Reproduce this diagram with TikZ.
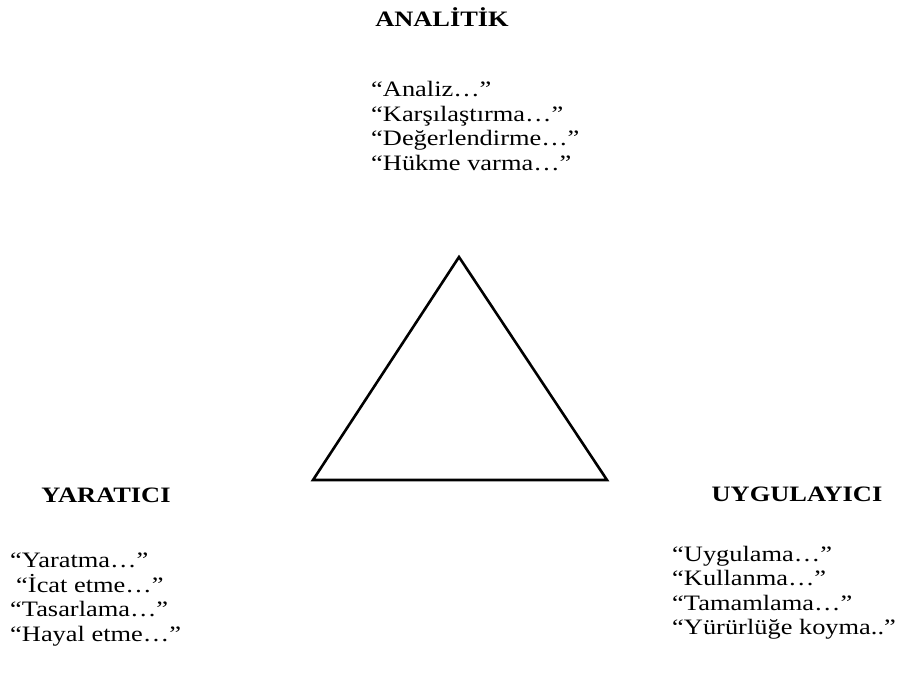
\documentclass[tikz,border=0pt]{standalone}
\usepackage{fontspec}
\setmainfont{Liberation Serif}
\begin{document}
\begin{tikzpicture}[x=1pt,y=1pt,
  line/.style={font=\fontsize{22}{22}\selectfont, anchor=base west, inner sep=0pt, xscale=1.2},
  head/.style={font=\fontsize{22}{22}\selectfont\bfseries, anchor=base, inner sep=0pt, xscale=1.2},
  tri/.style={draw=black, line width=2.6pt, line join=miter}]
\path[use as bounding box] (0,0) rectangle (910,675);

% heading and keywords above the triangle
\node[head] (hA) at (442,648) {ANALİTİK};
\node[line] (a1) at (371,578) {“Analiz…”};
\node[line] (a2) at (371,553.5) {“Karşılaştırma…”};
\node[line] (a3) at (371,529) {“Değerlendirme…”};
\node[line] (a4) at (371,504.5) {“Hükme varma…”};

% triangle
\coordinate (top) at (459,418);
\coordinate (bl) at (313,195);
\coordinate (br) at (607,195);
\draw[tri] (top) -- (bl) -- (br) -- cycle;

% left corner
\node[head] (hY) at (106,172) {YARATICI};
\node[line] (y1) at (10,108) {“Yaratma…”};
\node[line] (y2) at (16,83) {“İcat etme…”};
\node[line] (y3) at (10,59) {“Tasarlama…”};
\node[line] (y4) at (10,34) {“Hayal etme…”};

% right corner
\node[head] (hU) at (797,173) {UYGULAYICI};
\node[line] (u1) at (672,114) {“Uygulama…”};
\node[line] (u2) at (672,89.5) {“Kullanma…”};
\node[line] (u3) at (672,65) {“Tamamlama…”};
\node[line] (u4) at (672,40.5) {“Yürürlüğe koyma..”};
\end{tikzpicture}
\end{document}
